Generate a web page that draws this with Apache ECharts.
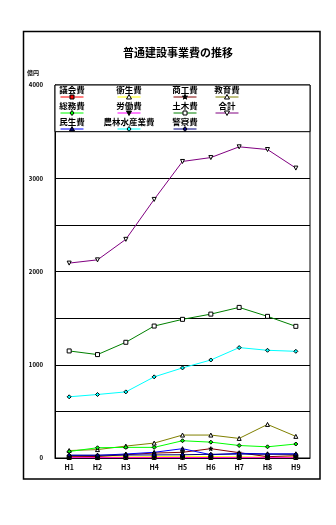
<!DOCTYPE html>
<html><head><meta charset="utf-8">
<script src="https://cdn.jsdelivr.net/npm/echarts@6/dist/echarts.min.js"></script>
<style>html,body{margin:0;padding:0;background:#fff}#c{width:336px;height:525px}</style>
</head><body><div id="c"></div>
<script>
const categories = ['H1','H2','H3','H4','H5','H6','H7','H8','H9'];
const yTicks = ['0','1000','2000','3000','4000'];
const gikai    = [6,5,6,7,8,6,7,5,6];
const eisei    = [10,12,12,14,20,15,12,10,12];
const shoko    = [14,16,36,53,61,100,57,14,25];
const kyoiku   = [80,90,128,160,246,246,210,360,232];
const somu     = [70,110,114,114,185,170,134,120,150];
const rodo     = [3,3,3,3,3,3,3,3,3];
const doboku   = [1148,1109,1241,1415,1487,1543,1615,1519,1412];
const gokei    = [2090,2125,2345,2773,3180,3222,3337,3308,3109];
const minsei   = [28,28,43,61,100,35,50,45,45];
const norin    = [656,681,709,870,966,1051,1184,1155,1144];
const keisatsu = [30,30,32,33,35,40,42,40,40];

const names = ['議会費','衛生費','商工費','教育費','総務費','労働費','土木費','合計','民生費','農林水産業費','警察費'];
const values = [gikai,eisei,shoko,kyoiku,somu,rodo,doboku,gokei,minsei,norin,keisatsu];

const DOWN = 'path://M0,0L10,0L5,9Z';
const STAR = 'path://M5,0L6.2,3.6L10,3.6L6.9,5.9L8.1,9.5L5,7.3L1.9,9.5L3.1,5.9L0,3.6L3.8,3.6Z';
const styles = [
  {c:'#FF0000', s:'rect', f:'#FF0000'},
  {c:'#FFFF00', s:'triangle', f:'#FFFFFF'},
  {c:'#800000', s:STAR, f:'#000000'},
  {c:'#808000', s:'triangle', f:'#FFFFFF'},
  {c:'#00FF00', s:'diamond', f:'#00FF00'},
  {c:'#FF00FF', s:DOWN, f:'#000000'},
  {c:'#008000', s:'rect', f:'#FFFFFF'},
  {c:'#800080', s:DOWN, f:'#FFFFFF'},
  {c:'#0000FF', s:'triangle', f:'#000080'},
  {c:'#00FFFF', s:'diamond', f:'#00FFFF'},
  {c:'#000080', s:'diamond', f:'#000080'}
];

const FONT = '"Noto Sans CJK JP", sans-serif';

const series = names.map((n,i)=>({
  name:n, type:'line', data:values[i],
  symbol:styles[i].s, symbolSize:4,
  lineStyle:{color:styles[i].c, width:1},
  itemStyle:{color:styles[i].f, borderColor:'#000', borderWidth:1},
  z: 3, animation:false
}));

// custom legend (text above line sample)
const legCols = [72,129,185,227];
const legRowsText = [90,106,122];
const legRowsLine = [97,113,129];
const order = [[0,1,2,3],[4,5,6,7],[8,9,10]];
const graphic = [
  {type:'rect', shape:{x:23.5,y:31.5,width:296.5,height:447.5}, style:{fill:'none',stroke:'#000',lineWidth:1.5}, z:0},
  {type:'text', x:178, y:53, style:{text:'普通建設事業費の推移', font:'bold 11px '+FONT, fill:'#000', textAlign:'center', textVerticalAlign:'middle'}},
  {type:'text', x:27, y:73, style:{text:'億円', font:'bold 6px '+FONT, fill:'#000', textAlign:'left', textVerticalAlign:'middle'}},
  {type:'rect', shape:{x:55,y:85,width:255,height:46.7}, style:{fill:'#fff',stroke:'#000',lineWidth:1}, z:10}
];
function markerShape(i,cx,cy){
  const st = styles[i]; const st2 = {fill:st.f, stroke:'#000', lineWidth:1};
  if(st.s==='rect') return {type:'rect', shape:{x:cx-2,y:cy-2,width:4,height:4}, style:st2, z:12};
  if(st.s==='triangle') return {type:'polygon', shape:{points:[[cx,cy-2.5],[cx+2.5,cy+2],[cx-2.5,cy+2]]}, style:st2, z:12};
  if(st.s==='diamond') return {type:'polygon', shape:{points:[[cx,cy-2.5],[cx+2,cy],[cx,cy+2.5],[cx-2,cy]]}, style:st2, z:12};
  if(st.s===DOWN) return {type:'polygon', shape:{points:[[cx-2.5,cy-2],[cx+2.5,cy-2],[cx,cy+2.5]]}, style:st2, z:12};
  const pts=[]; for(let k=0;k<10;k++){const r=k%2?1.1:2.7; const a=-Math.PI/2+k*Math.PI/5; pts.push([cx+r*Math.cos(a),cy+r*Math.sin(a)]);}
  return {type:'polygon', shape:{points:pts}, style:st2, z:12};
}
order.forEach((row,r)=>row.forEach((idx,c)=>{
  const cx = legCols[c];
  graphic.push({type:'text', x:cx, y:legRowsText[r], style:{text:names[idx], font:'bold 8.5px '+FONT, fill:'#000', textAlign:'center', textVerticalAlign:'middle'}, z:12});
  graphic.push({type:'line', shape:{x1:cx-11.5,y1:legRowsLine[r],x2:cx+11.5,y2:legRowsLine[r]}, style:{stroke:styles[idx].c, lineWidth:1}, z:11});
  graphic.push(markerShape(idx,cx,legRowsLine[r]));
}));

const chart = echarts.init(document.getElementById('c'), null, {renderer:'canvas'});
chart.setOption({
  animation:false,
  backgroundColor:'#fff',
  grid:{left:55, right:26, top:85, bottom:67, show:true, borderColor:'#000', borderWidth:1},
  xAxis:{type:'category', data:categories, boundaryGap:true,
    axisLine:{lineStyle:{color:'#000'}}, axisTick:{show:false},
    axisLabel:{color:'#000', fontSize:7, fontWeight:'bold', fontFamily:FONT, margin:6}},
  yAxis:{type:'value', min:0, max:4000, interval:500,
    axisLine:{show:true, lineStyle:{color:'#000'}}, axisTick:{show:false},
    splitLine:{lineStyle:{color:'#000', width:1}},
    axisLabel:{color:'#000', fontSize:6, fontWeight:'bold', fontFamily:FONT, margin:12,
      formatter:v=> yTicks.indexOf(String(v))>=0 ? String(v) : ''}},
  series:series,
  graphic:graphic
});
</script></body></html>
